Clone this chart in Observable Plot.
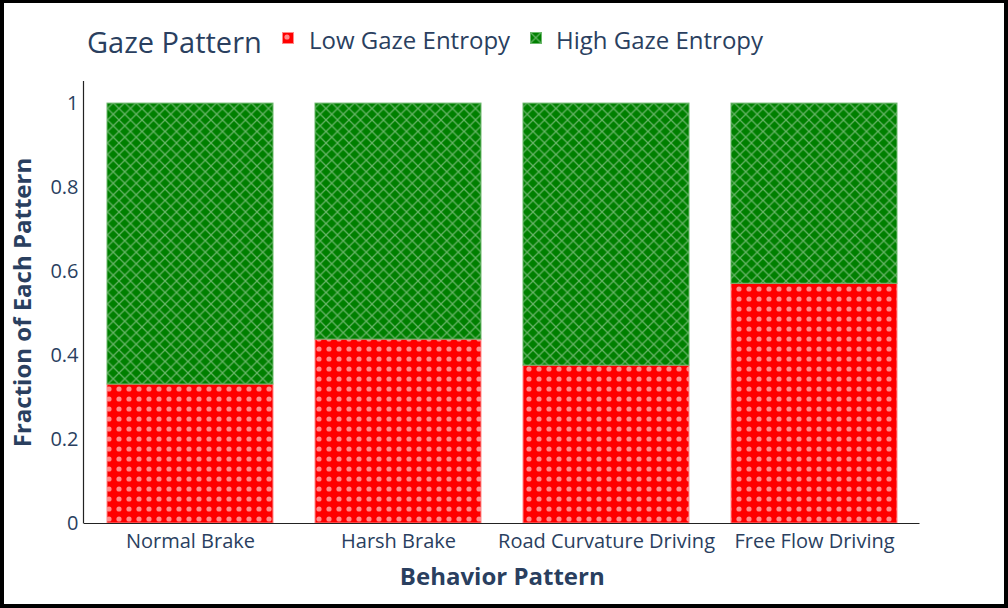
<!DOCTYPE html>
<html><head><meta charset="utf-8">
<script src="https://cdn.jsdelivr.net/npm/d3@7"></script>
<script src="https://cdn.jsdelivr.net/npm/@observablehq/plot@0.6"></script>
<style>
html,body{margin:0;padding:0;background:#fff;}
#wrap{position:relative;width:1008px;height:608px;box-sizing:border-box;border:4px solid #000;border-top-width:3px;background:#fff;font-family:"Open Sans",sans-serif;color:#2a3f5f;overflow:hidden}
#legend{position:relative;height:71px;}
#legend .t{position:absolute;white-space:nowrap;line-height:1;}
#legend svg{position:absolute;}
#chart svg{display:block;}
</style></head><body><div id="wrap"><div id="legend"></div><div id="chart"></div></div>
<script>
const categories = ["Normal Brake", "Harsh Brake", "Road Curvature Driving", "Free Flow Driving"];
const seriesNames = ["Low Gaze Entropy", "High Gaze Entropy"];
const lowEntropy = [0.331, 0.438, 0.376, 0.571];
const highEntropy = [0.669, 0.562, 0.624, 0.429];
const yTicks = [0, 0.2, 0.4, 0.6, 0.8, 1];
const legendTitle = "Gaze Pattern";
const xTitle = "Behavior Pattern";
const yTitle = "Fraction of Each Pattern";

const fills = {"Low Gaze Entropy": "url(#dotsPat)", "High Gaze Entropy": "url(#hatchPat)"};
const edges = {"Low Gaze Entropy": "#ff8a8a", "High Gaze Entropy": "#6cb86c"};

const rows = categories.flatMap((c, i) => [
  {behavior: c, pattern: seriesNames[0], value: lowEntropy[i]},
  {behavior: c, pattern: seriesNames[1], value: highEntropy[i]}
]);

const W = 1000, H = 530, mL = 80, mR = 84.5, mT = 7, mB = 81;

const chart = Plot.plot({
  width: W, height: H,
  marginLeft: mL, marginRight: mR, marginTop: mT, marginBottom: mB,
  style: {fontFamily: "'Open Sans', sans-serif", color: "#2a3f5f", background: "transparent", overflow: "visible"},
  x: {domain: categories, paddingInner: 0.2, paddingOuter: 0.1, label: null},
  y: {domain: [0, 1.0526], label: null},
  marks: [
    Plot.barY(rows, {x: "behavior", y: "value", fill: d => fills[d.pattern], stroke: d => edges[d.pattern], strokeWidth: 1}),
    Plot.ruleY([0], {stroke: "#222", strokeWidth: 1.2}),
    (index, scales, values, dims) => {
      const d = dims || {marginLeft: mL, marginTop: mT, height: H, marginBottom: mB};
      return d3.create("svg:line")
        .attr("x1", d.marginLeft - 0.5).attr("x2", d.marginLeft - 0.5)
        .attr("y1", d.marginTop).attr("y2", d.height - d.marginBottom + 0.5)
        .attr("stroke", "#222").attr("stroke-width", 1.2).node();
    },
    Plot.axisX({tickSize: 0, tickPadding: 10, fontSize: 20, label: null, fill: "#2a3f5f"}),
    Plot.axisY({ticks: yTicks, tickSize: 0, tickPadding: 6, fontSize: 20, tickFormat: d => String(d), label: null, fill: "#2a3f5f"}),
    Plot.text([yTitle], {text: d => d, frameAnchor: "left", rotate: -90, dx: -61, textAnchor: "middle", lineAnchor: "middle", fontSize: 24, fontWeight: "bold", fill: "#2a3f5f"}),
    Plot.text([xTitle], {text: d => d, frameAnchor: "bottom", dy: 54, textAnchor: "middle", lineAnchor: "middle", fontSize: 24, fontWeight: "bold", fill: "#2a3f5f"})
  ]
});

// pattern definitions
const svgSel = d3.select(chart.tagName.toLowerCase() === "svg" ? chart : chart.querySelector("svg"));
const defs = svgSel.insert("defs", ":first-child");
const dp = defs.append("pattern").attr("id", "dotsPat").attr("patternUnits", "userSpaceOnUse")
  .attr("width", 10).attr("height", 10).attr("x", 0).attr("y", 0);
dp.append("rect").attr("width", 10).attr("height", 10).attr("fill", "#ff0000");
dp.append("circle").attr("cx", 5).attr("cy", 5).attr("r", 2.6).attr("fill", "#ff8c8c");
const s = 11.5;
const hp = defs.append("pattern").attr("id", "hatchPat").attr("patternUnits", "userSpaceOnUse")
  .attr("width", s).attr("height", s);
hp.append("rect").attr("width", s).attr("height", s).attr("fill", "#008000");
hp.append("path").attr("d", `M-2,-2L${s+2},${s+2}M${s+2},-2L-2,${s+2}`)
  .attr("stroke", "#66b366").attr("stroke-width", 1.3).attr("fill", "none");

document.getElementById("chart").appendChild(chart);

// legend
const lg = d3.select("#legend");
lg.append("div").attr("class", "t").style("left", "83px").style("top", "24px").style("font-size", "29px").text(legendTitle);
const items = [
  {name: seriesNames[0], sw: 278, tx: 305},
  {name: seriesNames[1], sw: 526, tx: 552}
];
for (const it of items) {
  const sv = lg.append("svg").attr("width", 12).attr("height", 12).style("left", it.sw + "px").style("top", "29px");
  sv.append("rect").attr("x", 0.5).attr("y", 0.5).attr("width", 11).attr("height", 11)
    .attr("fill", fills[it.name]).attr("stroke", edges[it.name]).attr("stroke-width", 1);
  lg.append("div").attr("class", "t").style("left", it.tx + "px").style("top", "25px").style("font-size", "24px").text(it.name);
}
</script></body></html>
